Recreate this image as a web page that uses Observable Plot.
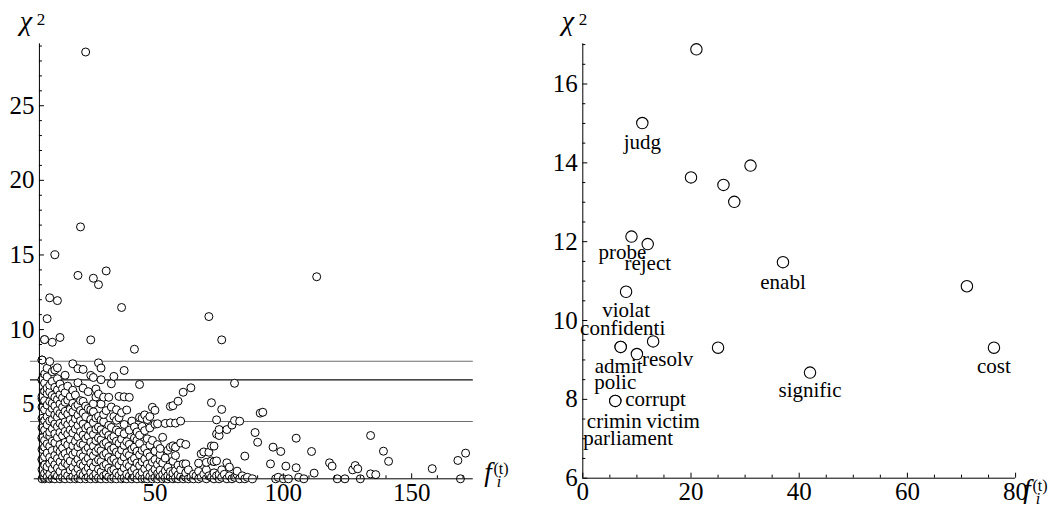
<!DOCTYPE html>
<html>
<head>
<meta charset="utf-8">
<script src="https://cdn.jsdelivr.net/npm/d3@7"></script>
<script src="https://cdn.jsdelivr.net/npm/@observablehq/plot@0.6"></script>
<style>
  html, body { margin: 0; padding: 0; background: #fff; }
  #wrap { display: flex; width: 1061px; height: 508px; overflow: hidden; }
  #wrap svg { display: block; overflow: visible; }
</style>
</head>
<body>
<div id="wrap"></div>
<script>
// Chi-square score of every term against its frequency in the topic, f_i^(t).
// Each row: a frequency and the chi-square scores of the terms having it.
const termsByFreq = [
  [6, [0, 0.62, 1.28, 1.31, 1.97, 2.71, 2.76, 3.42, 4.05, 4.81, 5.36, 5.52, 6.61, 6.66, 7.96, 7.96]],
  [7, [0, 0.08, 0.37, 0.93, 1.48, 2.12, 2.58, 3.27, 3.91, 4.63, 5.24, 5.87, 6.42, 7.02, 9.33, 9.33]],
  [8, [0.12, 0.56, 0.81, 1.73, 2.34, 2.96, 3.62, 4.17, 4.94, 5.71, 6.08, 6.83, 7.41, 10.73]],
  [9, [0, 0.31, 1.02, 1.44, 2.18, 2.87, 3.13, 3.88, 4.46, 5.18, 5.83, 6.27, 7.86, 12.13]],
  [10, [0.04, 0.66, 1.21, 1.89, 2.52, 3.36, 3.97, 4.71, 5.07, 5.59, 6.52, 7.18, 9.15]],
  [11, [0, 0.27, 0.95, 1.57, 2.41, 3.02, 3.68, 4.29, 4.88, 5.46, 6.13, 7.29, 15.01]],
  [12, [0.18, 0.72, 1.36, 1.98, 2.77, 3.49, 4.12, 4.57, 5.31, 5.96, 6.71, 7.44, 11.94]],
  [13, [0, 0.49, 1.13, 1.81, 2.29, 3.11, 3.72, 4.38, 5.02, 5.64, 6.35, 9.47]],
  [14, [0.09, 0.83, 1.52, 2.06, 2.88, 3.54, 4.23, 4.79, 5.42, 6.05]],
  [15, [0, 0.38, 1.07, 1.69, 2.44, 3.18, 3.81, 4.52, 5.13, 5.77, 6.94]],
  [16, [0.21, 0.94, 1.41, 2.27, 2.99, 3.63, 4.34, 5.27, 6.21]],
  [17, [0, 0.58, 1.19, 1.86, 2.63, 3.28, 3.96, 4.66, 5.52]],
  [18, [0.14, 0.77, 1.62, 2.21, 3.07, 3.71, 4.48, 5.06, 5.93, 7.71]],
  [19, [0, 0.43, 1.09, 1.78, 2.51, 3.34, 4.02, 4.84, 5.61]],
  [20, [0.06, 0.68, 1.31, 2.14, 2.82, 3.57, 4.27, 4.96, 6.44, 7.38, 13.63]],
  [21, [0, 0.33, 0.99, 1.67, 2.37, 3.16, 3.89, 4.58, 5.24, 16.88]],
  [22, [0.24, 0.87, 1.49, 2.28, 2.93, 3.67, 4.41, 5.19, 6.08, 7.33]],
  [23, [0, 0.52, 1.18, 1.92, 2.69, 3.39, 4.16, 4.87, 28.6]],
  [24, [0.11, 0.74, 1.38, 2.09, 2.85, 3.53, 4.71, 5.84]],
  [25, [0, 0.41, 1.04, 1.76, 2.47, 3.21, 3.98, 4.62, 6.93, 9.31]],
  [26, [0.16, 0.79, 1.54, 2.19, 2.97, 3.76, 4.49, 5.03, 6.79, 13.44]],
  [27, [0, 0.35, 1.12, 1.83, 2.56, 3.33, 4.08, 5.48, 6.02]],
  [28, [0.07, 0.64, 1.27, 2.02, 2.74, 3.47, 4.19, 5.68, 7.77, 13.01]],
  [29, [0, 0.46, 1.16, 1.88, 2.61, 3.29, 3.93, 5.01, 6.64, 7.42]],
  [30, [0.19, 0.86, 1.59, 2.33, 3.04, 3.82, 4.31, 5.47]],
  [31, [0, 0.29, 0.97, 1.71, 2.43, 3.19, 4.57, 13.93]],
  [32, [0.13, 0.71, 1.43, 2.17, 2.91, 3.58, 5.46]],
  [33, [0, 0.54, 1.23, 1.95, 2.72, 3.44, 4.81, 6.37]],
  [34, [0.08, 0.62, 1.34, 2.07, 2.84, 4.18, 6.86]],
  [35, [0, 0.39, 1.08, 1.79, 2.52, 3.27, 3.92, 4.63]],
  [36, [0.22, 0.91, 1.63, 2.38, 3.13, 4.09, 5.52]],
  [37, [0, 0.47, 1.19, 1.93, 2.66, 4.43, 11.48]],
  [38, [0.05, 0.73, 1.46, 2.24, 3.02, 3.64, 5.49, 7.26]],
  [39, [0, 0.32, 1.01, 1.74, 2.49, 4.61]],
  [40, [0.17, 0.84, 1.57, 2.31, 3.26, 5.46]],
  [41, [0, 0.51, 1.22, 1.99, 3.87]],
  [42, [0.1, 0.69, 1.37, 2.12, 2.73, 3.48, 8.68]],
  [43, [0, 0.36, 1.06, 1.84, 2.58, 3.14]],
  [44, [0.2, 0.88, 1.61, 2.36, 2.92, 4.12, 6.32]],
  [45, [0, 0.44, 1.14, 1.91, 3.51, 4.06]],
  [46, [0.03, 0.67, 1.33, 2.04, 3.23, 4.28]],
  [47, [0, 0.28, 0.98, 1.72, 2.68, 3.97]],
  [48, [0.15, 0.76, 1.48, 2.26, 3.41, 4.17]],
  [49, [0, 0.42, 1.11, 2.57, 4.79]],
  [50, [0.09, 0.63, 1.29, 1.85, 3.66, 4.59]],
  [51, [0, 0.34, 0.96, 2.29, 3.69]],
  [52, [0.14, 0.58, 1.24, 1.62, 2.03]],
  [53, [0, 0.29, 1.05, 2.78]],
  [54, [0.07, 0.52, 1.39, 3.71]],
  [55, [0, 0.21, 0.78, 1.91]],
  [56, [0.12, 0.48, 2.12, 3.75, 4.85]],
  [57, [0, 0.37, 1.18, 2.21, 4.9]],
  [58, [0.06, 0.55, 1.56, 2.12, 3.73]],
  [59, [0, 0.26, 0.91, 5.2]],
  [60, [0.13, 0.61, 2.4, 3.87]],
  [61, [0, 1.0, 5.8]],
  [62, [0.1, 0.4, 1.0, 2.3]],
  [63, [0, 0.6]],
  [64, [0.1, 6.1]],
  [65, [0, 0.3]],
  [66, [0.2]],
  [67, [0, 0.5, 1.05]],
  [68, [0.1, 1.67]],
  [69, [0.3, 1.8]],
  [70, [0, 0.6, 1.1]],
  [71, [0.2, 1.78, 10.87]],
  [72, [0.1, 1.2, 2.2, 5.1]],
  [73, [0, 0.4, 1.15, 2.19]],
  [74, [0.2, 1.2, 3.0, 3.95]],
  [75, [0, 0.3, 2.9, 3.3]],
  [76, [0.1, 0.6, 4.65, 9.31]],
  [77, [0.3]],
  [78, [0, 1.07, 3.3]],
  [79, [0.2, 0.78]],
  [80, [0, 3.6]],
  [81, [0.1, 3.9, 6.4]],
  [82, [0.3, 0.51]],
  [83, [0, 3.86]],
  [84, [0.2]],
  [85, [0, 1.52]],
  [86, [0.1]],
  [88, [0]],
  [89, [3.1]],
  [90, [2.45]],
  [91, [4.4]],
  [92, [4.46]],
  [95, [1.0]],
  [96, [2.12]],
  [97, [0]],
  [98, [0.1]],
  [99, [1.83]],
  [100, [0]],
  [101, [0.85]],
  [102, [0]],
  [105, [0.74, 2.72]],
  [106, [0.1]],
  [108, [0]],
  [111, [1.83]],
  [112, [0.38]],
  [113, [13.54]],
  [118, [1.07]],
  [119, [0.85]],
  [121, [0]],
  [124, [0]],
  [127, [0.6]],
  [128, [0.89]],
  [129, [0.67]],
  [130, [0]],
  [134, [0.33, 2.9]],
  [136, [0.28]],
  [139, [1.85]],
  [141, [1.17]],
  [158, [0.68]],
  [168, [1.23]],
  [169, [0]],
  [171, [1.72]]
];

// Chi-square critical values (1 d.o.f.) at p = 0.05, 0.01, 0.005
const criticalValues = [3.84, 6.63, 7.88];

// Stemmed terms shown beside the significant points
const words    = ["judg", "probe", "reject", "enabl", "violat", "confidenti", "admit", "resolv",
                  "cost", "signific", "polic", "corrupt", "crimin", "victim", "parliament"];
const wordFreq = [11, 9, 12, 37, 8, 7, 7, 10, 76, 42, 6, 6, 6, 6, 6];
const wordChi  = [15.01, 12.13, 11.94, 11.48, 10.73, 9.33, 9.33, 9.15, 9.31, 8.68, 7.96, 7.96, 7.96, 7.96, 7.96];

// Tick labels
const leftXLabels = [50, 100, 150];
const leftYLabels = [5, 10, 15, 20, 25];
const rightXLabels = [0, 20, 40, 60, 80];
const rightYLabels = [6, 8, 10, 12, 14, 16];

const points = termsByFreq.flatMap(([f, chis]) => chis.map(chi => ({f, chi})));
const significant = points.filter(d => d.chi > criticalValues[2] && d.f <= 80 && d.chi <= 17);
const wordRows = words.map((w, i) => ({word: w, f: wordFreq[i], chi: wordChi[i]}));

const FONT = '"Liberation Serif", "Times New Roman", Times, serif';
const TICK_FONT = 25;

// label offsets (dx, dy, anchor) around the point each word belongs to
const labelOffsets = {
  judg: [0, 19, "middle"],
  probe: [-9, 16, "middle"],
  reject: [0, 19, "middle"],
  enabl: [0, 20, "middle"],
  violat: [0, 19, "middle"],
  confidenti: [2, -19, "middle"],
  admit: [-2, 19, "middle"],
  resolv: [5, 5, "start"],
  cost: [0, 19, "middle"],
  signific: [0, 18, "middle"],
  polic: [0, -19, "middle"],
  corrupt: [10, -2, "start"],
  crimin: [-1, 20, "middle"],
  victim: [31, 20, "start"],
  parliament: [-32, 37, "start"]
};

// Axis ticks drawn as short rules pointing into the plot
function axisMarks({xOrigin, yOrigin, xMajor, xMinor, yMajor, yMinor, xLine, yLine}) {
  return [
    Plot.ruleY([yOrigin], {x1: xLine[0], x2: xLine[1], stroke: "black", strokeWidth: 1}),
    Plot.ruleX([xOrigin], {y1: yLine[0], y2: yLine[1], stroke: "black", strokeWidth: 1}),
    Plot.ruleX(xMajor, {x: d => d, y1: yOrigin, y2: yOrigin, insetBottom: 5, stroke: "black"}),
    Plot.ruleX(xMinor, {x: d => d, y1: yOrigin, y2: yOrigin, insetBottom: 3, stroke: "black"}),
    Plot.ruleY(yMajor, {y: d => d, x1: xOrigin, x2: xOrigin, insetRight: -5, stroke: "black"}),
    Plot.ruleY(yMinor, {y: d => d, x1: xOrigin, x2: xOrigin, insetRight: -3, stroke: "black"})
  ];
}

function tickLabels({xOrigin, yOrigin, xLabels, yLabels}) {
  return [
    Plot.text(xLabels, {x: d => d, y: yOrigin, text: d => String(d), lineAnchor: "top", dy: 4,
      fontSize: TICK_FONT, fontFamily: FONT, fill: "black"}),
    Plot.text(yLabels, {y: d => d, x: xOrigin, text: d => String(d), textAnchor: "end", dx: -5,
      fontSize: TICK_FONT, fontFamily: FONT, fill: "black"})
  ];
}

function addAxisTitles(svg, chiX, fPos) {
  const s = d3.select(svg);
  s.append("text").attr("x", chiX).attr("y", 30).attr("font-family", FONT)
    .attr("font-style", "italic").attr("font-size", 28).attr("fill", "black").text("χ");
  s.append("text").attr("x", chiX + 15).attr("y", 25).attr("font-family", FONT)
    .attr("font-size", 17).attr("fill", "black").text("2");
  s.append("text").attr("x", fPos.x).attr("y", fPos.base).attr("font-family", FONT)
    .attr("font-style", "italic").attr("font-size", 27).attr("fill", "black").text("f");
  s.append("text").attr("x", fPos.x + 11).attr("y", fPos.base + 6).attr("font-family", FONT)
    .attr("font-style", "italic").attr("font-size", 16).attr("fill", "black").text("i");
  s.append("text").attr("x", fPos.x + 13).attr("y", fPos.base - 7).attr("font-family", FONT)
    .attr("font-size", 16).attr("fill", "black").text("(t)");
}

// Left: all terms, with the three critical values as horizontal lines
const leftMinorX = d3.range(10, 180, 10).filter(v => !leftXLabels.includes(v) && v <= 170);
const leftMinorY = d3.range(1, 30).filter(v => !leftYLabels.includes(v));
const left = Plot.plot({
  width: 520, height: 508, margin: 0,
  style: {fontFamily: FONT, background: "white", overflow: "visible"},
  x: {domain: [0, 180], range: [26.1, 488.2], axis: null},
  y: {domain: [0, 29.15], range: [478.3, 43.3], axis: null},
  marks: [
    Plot.ruleY(criticalValues, {x1: 1.5, x2: 174,
      stroke: (d, i) => i === 1 ? "#111" : "#6e6e6e", strokeWidth: 1.1}),
    Plot.dot(points, {x: "f", y: "chi", r: 4, fill: "white", stroke: "black", strokeWidth: 1}),
    ...axisMarks({xOrigin: 5, yOrigin: 0, xMajor: leftXLabels, xMinor: leftMinorX,
      yMajor: leftYLabels, yMinor: leftMinorY, xLine: [3, 174], yLine: [0, 29.15]}),
    ...tickLabels({xOrigin: 5, yOrigin: 0, xLabels: leftXLabels, yLabels: leftYLabels})
  ]
});
addAxisTitles(left, 26, {x: 488, base: 481});

// Right: terms above the 0.005 critical value, labelled
const rightMinorX = d3.range(5, 80, 5).filter(v => !rightXLabels.includes(v));
const rightMinorY = d3.range(6.5, 17.01, 0.5).filter(v => !rightYLabels.includes(v));
const right = Plot.plot({
  width: 541, height: 508, margin: 0,
  style: {fontFamily: FONT, background: "white", overflow: "visible"},
  x: {domain: [0, 80], range: [62.3, 495.1], axis: null},
  y: {domain: [6, 17.02], range: [477.7, 43.3], axis: null},
  marks: [
    Plot.dot(significant, {x: "f", y: "chi", r: 5.7, fill: "white", stroke: "black", strokeWidth: 1.1}),
    ...axisMarks({xOrigin: 0, yOrigin: 6, xMajor: rightXLabels, xMinor: rightMinorX,
      yMajor: rightYLabels, yMinor: rightMinorY, xLine: [0, 80], yLine: [6, 17.02]}),
    ...tickLabels({xOrigin: 0, yOrigin: 6, xLabels: rightXLabels, yLabels: rightYLabels}),
    ...wordRows.map(d => {
      const [dx, dy, anchor] = labelOffsets[d.word];
      return Plot.text([d], {x: "f", y: "chi", text: "word", dx, dy, textAnchor: anchor,
        fontSize: 21, fontFamily: FONT, fill: "black"});
    })
  ]
});
addAxisTitles(right, 48, {x: 507, base: 498});

document.getElementById("wrap").append(left, right);
</script>
</body>
</html>
